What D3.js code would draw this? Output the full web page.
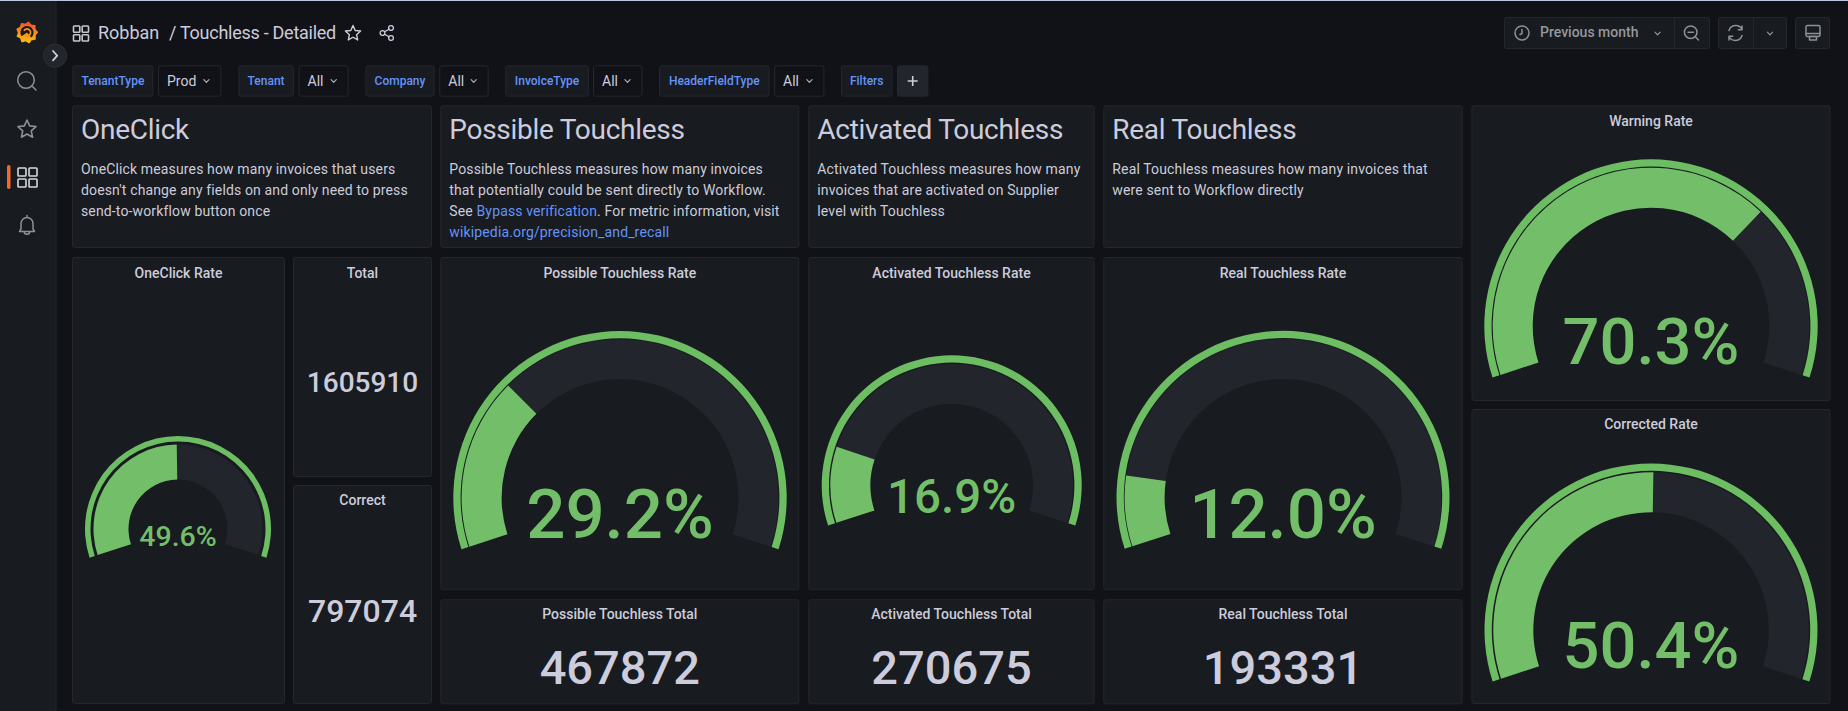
<!DOCTYPE html>
<html><head><meta charset="utf-8">
<script src="https://cdn.jsdelivr.net/npm/d3@7/dist/d3.min.js"></script>
<style>html,body{margin:0;padding:0;background:#111217;overflow:hidden}svg{display:block;font-family:Roboto,sans-serif}</style>
</head><body><svg id="c" width="1848" height="711"></svg>
<script>
// ---- data ----
const gaugeTitles = ["OneClick Rate","Possible Touchless Rate","Activated Touchless Rate","Real Touchless Rate","Warning Rate","Corrected Rate"];
const gaugeValues = [49.6,29.2,16.9,12.0,70.3,50.4];
const statTitles = ["Total","Correct","Possible Touchless Total","Activated Touchless Total","Real Touchless Total"];
const statValues = [1605910,797074,467872,270675,193331];
const filterNames = ["TenantType","Tenant","Company","InvoiceType","HeaderFieldType"];
const filterValues = ["Prod","All","All","All","All"];
const headings = ["OneClick","Possible Touchless","Activated Touchless","Real Touchless"];
const bodies = [
 [["OneClick measures how many invoices that users"],["doesn't change any fields on and only need to press"],["send-to-workflow button once"]],
 [["Possible Touchless measures how many invoices"],["that potentially could be sent directly to Workflow."],["See ","*Bypass verification",". For metric information, visit"],["*wikipedia.org/precision_and_recall"]],
 [["Activated Touchless measures how many"],["invoices that are activated on Supplier"],["level with Touchless"]],
 [["Real Touchless measures how many invoices that"],["were sent to Workflow directly"]]
];
// ---- layout ----
const gaugeLayout = [
 {p:[72,257,285,704],cx:178,cy:529,R:93,ring:5.5,o:84.5,i:49.5,fs:28.5,base:545.7,ty:278},
 {p:[440.3,257,799.3,590.3],cx:620,cy:497.7,R:166.7,ring:7.3,o:158.4,i:118.4,fs:69,base:538.3,ty:278},
 {p:[808.3,257,1094.7,590.3],cx:951.7,cy:485.3,R:130,ring:7.3,o:121.3,i:81.3,fs:47.5,base:513.3,ty:278},
 {p:[1103.3,257,1462.7,590.3],cx:1283,cy:497.3,R:166.5,ring:7.3,o:158.4,i:118.4,fs:69,base:538.3,ty:278},
 {p:[1471.5,105.3,1830.5,401],cx:1651,cy:326,R:166.7,ring:7.3,o:158.3,i:118.3,fs:65,base:364,ty:125.6},
 {p:[1471.5,409,1830.5,704],cx:1651,cy:630,R:166.5,ring:7.3,o:157.7,i:117.7,fs:65,base:668,ty:429.3}
];
const statLayout = [
 {p:[293,257,432,477],fs:28,base:391.7,ty:278},
 {p:[293,485,432,704],fs:32,base:621.7,ty:505.2},
 {p:[440.3,599.3,799.3,704.3],fs:47,base:684,ty:619.3},
 {p:[808.3,599.3,1094.7,704.3],fs:47,base:684,ty:619.3},
 {p:[1103.3,599.3,1462.7,704.3],fs:47,base:684,ty:619.3}
];
const textLayout = [[72,432],[440.3,799.3],[808.3,1094.7],[1103.3,1462.7]];
const filterLayout = [[72.4,153.4,158,221.4],[238.4,293.8,298.5,348.7],[365.4,434.6,439.3,488.7],[505.3,588.8,593,642.5],[659,769.5,774,824.4]];

const PANEL="#181b1f",BORDER="#25272c",TEXT="#ccccdc",LINK="#6494fb",GREEN="#73bf69",RING="#6dbd63",TRACK="#22252b",DIM="#8e9096";
const svg=d3.select("#c");
function rect(g,x0,y0,x1,y1,fill,stroke,rx){return g.append("rect").attr("x",x0+.5).attr("y",y0+.5).attr("width",x1-x0-1).attr("height",y1-y0-1).attr("rx",rx==null?2:rx).attr("fill",fill).attr("stroke",stroke||BORDER);}
function txt(g,x,y,s,fs,fill,w,anchor){return g.append("text").attr("x",x).attr("y",y).attr("font-size",fs).attr("fill",fill||TEXT).attr("font-weight",w||400).attr("text-anchor",anchor||"start").text(s);}
function icon(x,y){return svg.append("g").attr("transform",`translate(${x},${y})`).attr("fill","none").attr("stroke",DIM).attr("stroke-width",1.5).attr("stroke-linecap","round").attr("stroke-linejoin","round");}
function chev(x,y,c,s){svg.append("path").attr("d",`M${x-(s||2.6)},${y-1.3}L${x},${y+1.3}L${x+(s||2.6)},${y-1.3}`).attr("fill","none").attr("stroke",c||"#aeb0b6").attr("stroke-width",1.2).attr("stroke-linecap","round").attr("stroke-linejoin","round");}
function grid(x,y,s,c){const g=svg.append("g").attr("fill","none").attr("stroke",c).attr("stroke-width",1.6);
 const b=s*0.42;[[0,0],[s-b,0],[0,s-b],[s-b,s-b]].forEach(o=>g.append("rect").attr("x",x+o[0]).attr("y",y+o[1]).attr("width",b).attr("height",b).attr("rx",.8));}

// top rule + sidebar
svg.append("rect").attr("x",0).attr("y",0).attr("width",1848).attr("height",1).attr("fill","#bcc6de");
svg.append("rect").attr("x",0).attr("y",1).attr("width",56).attr("height",710).attr("fill",PANEL);
svg.append("rect").attr("x",55.5).attr("y",1).attr("width",1).attr("height",710).attr("fill",BORDER);

// logo
const defs=svg.append("defs");
const lg=defs.append("linearGradient").attr("id","logo").attr("x1",.3).attr("y1",1).attr("x2",.4).attr("y2",0);
lg.append("stop").attr("offset",0).attr("stop-color","#fbc30f");lg.append("stop").attr("offset",.55).attr("stop-color","#f68a1f");lg.append("stop").attr("offset",1).attr("stop-color","#ee4f2a");
const spikes=d3.range(18).map(i=>{const a=i/18*2*Math.PI+.15,r=i%2?9.2:11.2;return [r*Math.sin(a),-r*Math.cos(a)];});
const logo=svg.append("g").attr("transform","translate(27,32.5)");
logo.append("path").attr("d",d3.line().curve(d3.curveCardinalClosed.tension(.6))(spikes)).attr("fill","url(#logo)");
const rad=d=>d*Math.PI/180, logoArc=d3.arc();
logo.append("path").attr("fill","#1a1a1d").attr("d",logoArc({innerRadius:0,outerRadius:6.6,startAngle:rad(-125),endAngle:rad(140)}));
logo.append("path").attr("fill","#f7941e").attr("d",logoArc({innerRadius:2.6,outerRadius:4.4,startAngle:rad(-60),endAngle:rad(215)}));

// sidebar icons
svg.append("circle").attr("cx",55).attr("cy",55.7).attr("r",11.7).attr("fill","#22252b").attr("stroke","#2c2e33");
svg.append("path").attr("d","M53,51L57.2,55.7L53,60.4").attr("fill","none").attr("stroke",TEXT).attr("stroke-width",1.8).attr("stroke-linecap","round").attr("stroke-linejoin","round");
let ic=icon(27,81);ic.append("circle").attr("cx",-1).attr("cy",-1).attr("r",8.3);ic.append("path").attr("d","M5,5L9,9");
function star(x,y,r,c,sw){const pts=d3.range(10).map(i=>{const a=i/10*2*Math.PI,q=i%2?r*.47:r;return [x+q*Math.sin(a),y-q*Math.cos(a)];});
 svg.append("path").attr("d",d3.line().curve(d3.curveLinearClosed)(pts)).attr("fill","none").attr("stroke",c).attr("stroke-width",sw).attr("stroke-linejoin","round");}
star(27,129.5,9.5,DIM,1.6);
grid(18,168,19,"#d8d9de");
svg.append("rect").attr("x",7).attr("y",165).attr("width",3.5).attr("height",24).attr("rx",1.7).attr("fill","#f5682c");
ic=icon(27,225);ic.append("path").attr("d","M-6,4V-1.5A6,6 0 0 1 6,-1.5V4L7.5,6.5H-7.5ZM0,-7.5V-9.5M-2.8,6.5A2.8,2.8 0 0 0 2.8,6.5");

// header
grid(73.5,26,15,"#c6c7cd");
txt(svg,98,39,"Robban",18,TEXT,400);
txt(svg,169,39,"/ Touchless - Detailed",18,TEXT,400).attr("letter-spacing",-0.27);
star(353,33.5,8,TEXT,1.4);
ic=icon(387,33);ic.attr("stroke",TEXT).attr("stroke-width",1.3);
ic.append("circle").attr("cx",-4.5).attr("r",2.4);ic.append("circle").attr("cx",4).attr("cy",-5).attr("r",2.4);ic.append("circle").attr("cx",4).attr("cy",5).attr("r",2.4);
ic.append("path").attr("d","M-2.4,-1.2L2,-3.8M-2.4,1.2L2,3.8");

// time controls
rect(svg,1504,17,1710,49,PANEL);
svg.append("rect").attr("x",1674).attr("y",17.5).attr("width",1).attr("height",31).attr("fill",BORDER);
rect(svg,1718,17,1787,49,PANEL);
svg.append("rect").attr("x",1753).attr("y",17.5).attr("width",1).attr("height",31).attr("fill",BORDER);
rect(svg,1795,17,1830,49,PANEL);
ic=icon(1522,33);ic.append("circle").attr("r",7);ic.append("path").attr("d","M0,-3.5V0.5L-2,1.5");
txt(svg,1540,37,"Previous month",14,"#95979d",500);
chev(1657.6,33.5,"#95979d");
ic=icon(1691.5,33);ic.append("circle").attr("cx",-.8).attr("cy",-.8).attr("r",6.3);ic.append("path").attr("d","M3.8,3.8L7,7M-3.5,-.8H2");
ic=icon(1735.5,33);ic.append("path").attr("d","M6.5,-3.5A7,7 0 0 0 -6.5,-2.5M-6.5,3.5A7,7 0 0 0 6.5,2.5M6.5,-7V-3.2H2.8M-6.5,7V3.2H-2.8");
chev(1770,33.5,"#95979d");
ic=icon(1813,33);ic.append("rect").attr("x",-7).attr("y",-7.5).attr("width",14).attr("height",11).attr("rx",1.5);ic.append("path").attr("d","M-7,0.5H7");ic.append("rect").attr("x",-3.5).attr("y",3.5).attr("width",7).attr("height",3.5);

// filters
filterNames.forEach((n,i)=>{const l=filterLayout[i];
 rect(svg,l[0],65.3,l[1],96.7,PANEL);
 txt(svg,(l[0]+l[1])/2,85.3,n,12,LINK,500,"middle");
 rect(svg,l[2],65.3,l[3],96.7,"#111217");
 txt(svg,l[2]+9,86,filterValues[i],14,TEXT,400);
 chev(l[3]-15,81,"#aeb0b6");
});
rect(svg,841,65.3,892.4,96.7,PANEL);
txt(svg,866.7,85.3,"Filters",12,LINK,500,"middle");
rect(svg,897,65.3,928.4,96.7,"#22252b");
svg.append("path").attr("d","M912.7,76V86M907.7,81H917.7").attr("stroke",TEXT).attr("stroke-width",1.6);

// text panels
headings.forEach((h,i)=>{const l=textLayout[i];
 rect(svg,l[0],105.3,l[1],248,PANEL);
 txt(svg,l[0]+9,139.3,h,28,TEXT,400).attr("letter-spacing",-0.28);
 bodies[i].forEach((line,k)=>{
  const t=svg.append("text").attr("x",l[0]+9).attr("y",174+21*k).attr("font-size",14).attr("fill",TEXT).attr("letter-spacing",0.14);
  line.forEach(seg=>{const isL=seg[0]==="*";t.append("tspan").attr("fill",isL?LINK:TEXT).text(isL?seg.slice(1):seg);});
 });
});

// gauges
const toAngle=d3.scaleLinear().domain([0,100]).range([-108*Math.PI/180,108*Math.PI/180]);
gaugeTitles.forEach((title,i)=>{const L=gaugeLayout[i],v=gaugeValues[i],p=L.p;
 rect(svg,p[0],p[1],p[2],p[3],PANEL);
 txt(svg,(p[0]+p[2])/2,L.ty,title,14,TEXT,500,"middle");
 const g=svg.append("g").attr("transform",`translate(${L.cx},${L.cy})`);
 const arc=d3.arc();
 g.append("path").attr("fill",RING).attr("d",arc({innerRadius:L.R-L.ring,outerRadius:L.R,startAngle:toAngle(0),endAngle:toAngle(100)}));
 g.append("path").attr("fill",TRACK).attr("d",arc({innerRadius:L.i,outerRadius:L.o,startAngle:toAngle(0),endAngle:toAngle(100)}));
 g.append("path").attr("fill",GREEN).attr("d",arc({innerRadius:L.i,outerRadius:L.o,startAngle:toAngle(0),endAngle:toAngle(v)}));
 txt(svg,L.cx,L.base,v.toFixed(1)+"%",L.fs,GREEN,500,"middle");
});

// stats
statTitles.forEach((title,i)=>{const L=statLayout[i],p=L.p;
 rect(svg,p[0],p[1],p[2],p[3],PANEL);
 const cx=(p[0]+p[2])/2;
 txt(svg,cx,L.ty,title,14,TEXT,500,"middle");
 txt(svg,cx,L.base,String(statValues[i]),L.fs,TEXT,500,"middle");
});
</script></body></html>
